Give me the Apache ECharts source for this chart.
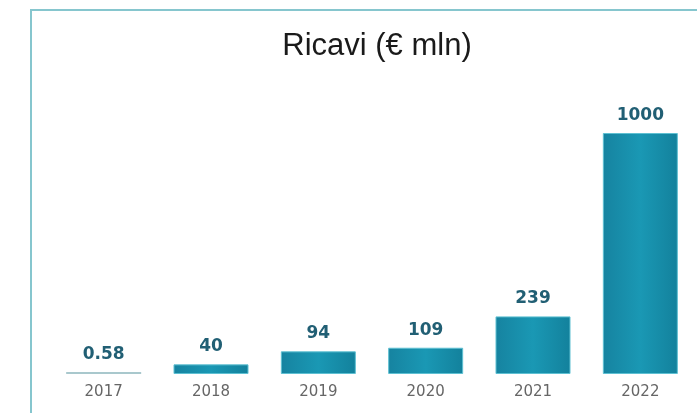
<!DOCTYPE html>
<html>
<head>
<meta charset="utf-8">
<script src="https://cdn.jsdelivr.net/npm/echarts@6/dist/echarts.min.js"></script>
<style>html,body{margin:0;padding:0;background:#fff}#c{width:697px;height:413px}</style>
</head>
<body>
<div id="c"></div>
<script>
const titleText = "Ricavi (€ mln)";
const years = ["2017", "2018", "2019", "2020", "2021", "2022"];
const revenues = [0.58, 40, 94, 109, 239, 1000];
const valueLabels = ["0.58", "40", "94", "109", "239", "1000"];

const chart = echarts.init(document.getElementById('c'));
const barGrad = new echarts.graphic.LinearGradient(0, 0, 1, 0, [
  {offset: 0, color: '#1683a0'},
  {offset: 0.5, color: '#1a98b4'},
  {offset: 1, color: '#13819c'}
]);
const seriesData = revenues.map((v, i) => i === 0
  ? {value: v, itemStyle: {color: '#a9c8cd', borderWidth: 0}}
  : {value: v});

chart.setOption({
  animation: false,
  backgroundColor: '#fff',
  title: {
    text: titleText, left: 372, textAlign: 'center', top: 26,
    textStyle: {fontFamily: 'Liberation Sans', fontWeight: 'normal', fontSize: 31, color: '#1a1a1a'}
  },
  graphic: [{
    type: 'rect', shape: {x: 31, y: 10, width: 700, height: 500},
    style: {fill: 'none', stroke: '#86c6ce', lineWidth: 2}
  }],
  grid: {left: 50, right: 3, top: 133, bottom: 39},
  xAxis: {
    type: 'category', data: years,
    axisLine: {show: false}, axisTick: {show: false},
    axisLabel: {margin: 11, color: '#666666', fontFamily: 'DejaVu Sans', fontSize: 15}
  },
  yAxis: {type: 'value', min: 0, max: 1000, show: false, splitLine: {show: false}},
  series: [{
    type: 'bar', data: seriesData, barWidth: 75, barMinHeight: 2,
    itemStyle: {color: barGrad, borderColor: '#5ec0d2', borderWidth: 1},
    label: {
      show: true, position: 'top', distance: 9,
      formatter: p => valueLabels[p.dataIndex],
      fontFamily: 'DejaVu Sans', fontWeight: 'bold', fontSize: 17, color: '#215f74'
    }
  }]
});
</script>
</body>
</html>
